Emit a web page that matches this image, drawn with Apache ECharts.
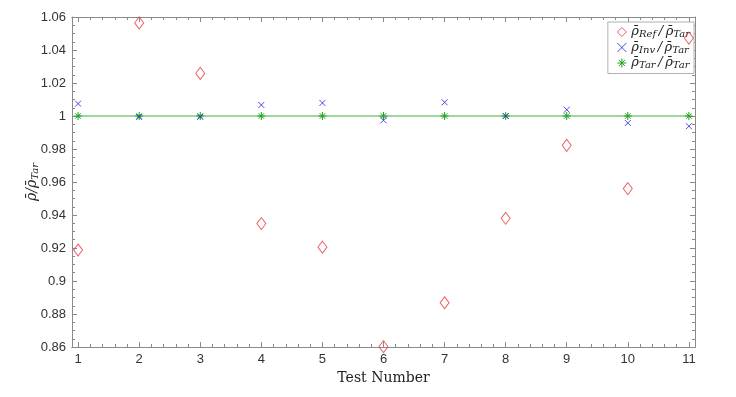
<!DOCTYPE html>
<html>
<head>
<meta charset="utf-8">
<script src="https://cdn.jsdelivr.net/npm/echarts@6.0.0/dist/echarts.min.js"></script>
<style>
  html, body { margin: 0; padding: 0; background: #fff; }
  #chart { width: 736px; height: 397px; }
</style>
</head>
<body>
<div id="chart"></div>
<script>
// Test numbers and density ratios
const testNumbers = [1, 2, 3, 4, 5, 6, 7, 8, 9, 10, 11];
const refRatio = [0.9188, 1.0564, 1.0258, 0.9348, 0.9205, 0.8602, 0.8868, 0.9380, 0.9822, 0.9560, 1.0472];
const invRatio = [1.0075, 0.9994, 0.9995, 1.0067, 1.0079, 0.9974, 1.0083, 1.0000, 1.0038, 0.9958, 0.9938];
const tarRatio = [1, 1, 1, 1, 1, 1, 1, 1, 1, 1, 1];
const majorX = [1, 2, 3, 4, 5, 6, 7, 8, 9, 10, 11];
const minorX = [];
majorX.slice(0, -1).forEach(v => [0.2, 0.4, 0.6, 0.8].forEach(d => minorX.push(+(v + d).toFixed(1))));

const AXIS_COLOR = '#8a8a8a';
const LABEL_COLOR = '#333';
const X_PATH = 'path://M0,0L10,10M10,0L0,10';
const STAR_PATH = 'path://M5,0L5,10M0,5L10,5M1.6,1.6L8.4,8.4M8.4,1.6L1.6,8.4';

const pairs = arr => arr.map((v, i) => [testNumbers[i], v]);

const serif = '"DejaVu Serif", "Liberation Serif", serif';
const legendRich = {
  a: { fontFamily: serif, fontStyle: 'italic', fontSize: 13, color: '#222' },
  s: { fontFamily: serif, fontStyle: 'italic', fontSize: 10, color: '#222', padding: [5, 0, 0, 0] }
};
const nameRich = {
  a: { fontFamily: serif, fontStyle: 'italic', fontSize: 14, color: '#222' },
  s: { fontFamily: serif, fontStyle: 'italic', fontSize: 10, color: '#222', padding: [6, 0, 0, 0] }
};
const legendNames = {
  ref: '{a|ρ̄}{s|Ref}{a|\u2009/\u2009ρ̄}{s|Tar}',
  inv: '{a|ρ̄}{s|Inv}{a|\u2009/\u2009ρ̄}{s|Tar}',
  tar: '{a|ρ̄}{s|Tar}{a|\u2009/\u2009ρ̄}{s|Tar}'
};

function xAxisDef(position, customTicks, len, showLabels) {
  return {
    type: 'value', position, min: 0.9, max: 11.1,
    axisLine: { show: true, onZero: false, lineStyle: { color: AXIS_COLOR } },
    axisTick: { show: true, inside: true, length: len, customValues: customTicks, lineStyle: { color: AXIS_COLOR } },
    axisLabel: showLabels
      ? { show: true, customValues: majorX, color: LABEL_COLOR, fontSize: 13, margin: 6, fontFamily: 'Liberation Sans, Arial, sans-serif' }
      : { show: false },
    splitLine: { show: false }
  };
}

function yAxisDef(position, showLabels) {
  return {
    type: 'value', position, min: 0.86, max: 1.06, interval: 0.02,
    axisLine: { show: true, onZero: false, lineStyle: { color: AXIS_COLOR } },
    axisTick: { show: true, inside: true, length: 5, lineStyle: { color: AXIS_COLOR } },
    minorTick: { show: true, splitNumber: 4, length: 3, lineStyle: { color: AXIS_COLOR } },
    axisLabel: showLabels
      ? { show: true, color: LABEL_COLOR, fontSize: 13, margin: 6, fontFamily: 'Liberation Sans, Arial, sans-serif' }
      : { show: false },
    splitLine: { show: false },
    name: showLabels ? '{a|ρ̄/ρ̄}{s|Tar}' : '',
    nameLocation: 'middle',
    nameGap: 32,
    nameMoveOverlap: false,
    nameTextStyle: { rich: nameRich }
  };
}

const chart = echarts.init(document.getElementById('chart'));
chart.setOption({
  animation: false,
  grid: { left: 72, right: 41, top: 17, bottom: 50, containLabel: false },
  xAxis: [
    Object.assign(xAxisDef('bottom', majorX, 5, true), {
      name: 'Test Number', nameLocation: 'middle', nameGap: 23,
      nameTextStyle: { fontFamily: serif, fontSize: 14, color: '#222' }
    }),
    xAxisDef('bottom', minorX, 3, false),
    xAxisDef('top', majorX, 5, false),
    xAxisDef('top', minorX, 3, false)
  ],
  yAxis: [yAxisDef('left', true), yAxisDef('right', false)],
  legend: {
    orient: 'vertical', right: 42, top: 22,
    backgroundColor: '#fff', borderColor: '#b0b0b0', borderWidth: 1,
    padding: [3, 4, 3, 7], itemGap: 1, itemWidth: 9, itemHeight: 9,
    formatter: n => legendNames[n],
    textStyle: { rich: legendRich },
    data: [
      { name: 'ref', icon: 'diamond', itemStyle: { color: 'none', borderColor: '#e8383d', borderWidth: 1 } },
      { name: 'inv', icon: X_PATH, itemStyle: { color: 'none', borderColor: '#1f1fe0', borderWidth: 1 } },
      { name: 'tar', icon: STAR_PATH, itemStyle: { color: 'none', borderColor: '#22a022', borderWidth: 1 } }
    ]
  },
  series: [
    {
      name: 'tar', type: 'line', data: pairs(tarRatio),
      symbol: STAR_PATH, symbolSize: 8, showSymbol: true,
      lineStyle: { color: '#7fcc7f', width: 1.5 },
      itemStyle: { color: 'none', borderColor: '#22a022', borderWidth: 1 },
      z: 2
    },
    {
      name: 'inv', type: 'scatter', data: pairs(invRatio),
      symbol: X_PATH, symbolSize: 6,
      itemStyle: { color: 'none', borderColor: '#1f1fe0', borderWidth: 1 },
      z: 3
    },
    {
      name: 'ref', type: 'scatter', data: pairs(refRatio),
      symbol: 'diamond', symbolSize: [9, 12],
      itemStyle: { color: 'none', borderColor: '#e8383d', borderWidth: 1 },
      z: 4
    }
  ]
});
</script>
</body>
</html>
